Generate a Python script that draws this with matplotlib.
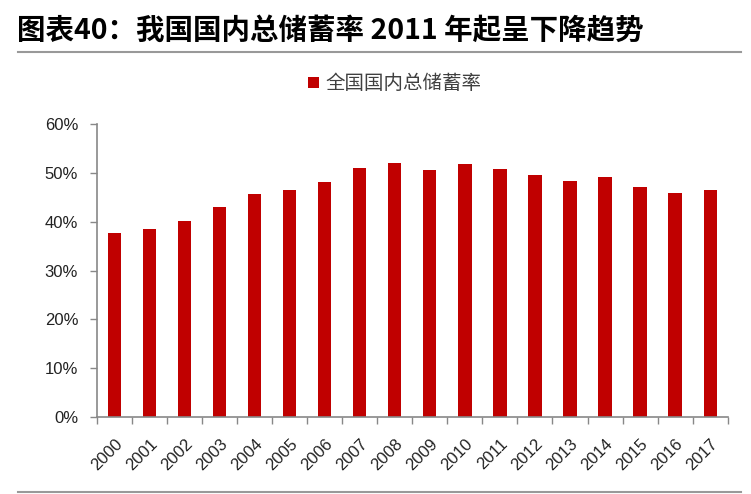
import matplotlib
matplotlib.use("Agg")
import matplotlib.pyplot as plt
from matplotlib.ticker import FuncFormatter, MultipleLocator
from matplotlib.transforms import ScaledTranslation
import numpy as np

years = ["2000", "2001", "2002", "2003", "2004", "2005", "2006", "2007", "2008",
         "2009", "2010", "2011", "2012", "2013", "2014", "2015", "2016", "2017"]
savings_rate = [37.7, 38.5, 40.2, 43.0, 45.8, 46.6, 48.2, 51.0, 52.0,
                50.6, 51.8, 50.8, 49.6, 48.4, 49.2, 47.2, 46.0, 46.6]
series_name = "全国国内总储蓄率"
title = "图表40：我国国内总储蓄率 2011 年起呈下降趋势"

plt.rcParams['font.family'] = ['Noto Sans CJK SC', 'DejaVu Sans']

fig = plt.figure(figsize=(7.51, 4.94), dpi=100)
ax = fig.add_axes([0.129, 0.156, 0.840, 0.592])

x = np.arange(len(years))
ax.bar(x, savings_rate, width=0.38, color="#C00000", label=series_name, zorder=2)

ax.set_xlim(-0.5, len(years) - 0.5)
ax.set_ylim(0, 60)
ax.yaxis.set_major_locator(MultipleLocator(10))
ax.yaxis.set_major_formatter(FuncFormatter(lambda v, p: f"{v:.0f}%"))

ax.set_xticks(x)
ax.set_xticklabels(years, rotation=45, ha="right", va="top", rotation_mode="anchor",
                   fontsize=12, color="#222222", family=['Liberation Sans'])
offset = ScaledTranslation(2 / 100, 0, fig.dpi_scale_trans)
for lbl in ax.get_xticklabels():
    lbl.set_transform(lbl.get_transform() + offset)
ax.set_xticks(np.arange(-0.5, len(years)), minor=True)
ax.tick_params(axis="x", which="major", length=0, pad=14)
ax.tick_params(axis="x", which="minor", length=5, color="#888888", width=1)
ax.tick_params(axis="y", length=5, color="#888888", width=1, labelsize=12,
               labelcolor="#222222", pad=8.5)
for lbl in ax.get_yticklabels():
    lbl.set_family(['Liberation Sans'])

for s in ["top", "right"]:
    ax.spines[s].set_visible(False)
for s in ["left", "bottom"]:
    ax.spines[s].set_color("#888888")
    ax.spines[s].set_linewidth(1.2)

leg = fig.legend(loc="center", bbox_to_anchor=(0.526, 0.83), frameon=False,
                 fontsize=14, handlelength=0.55, handleheight=0.55, handletextpad=0.35)
for t in leg.get_texts():
    t.set_color("#404040")

fig.text(0.022, 0.938, title, fontsize=20.5, fontweight="bold", color="#000000",
         va="center", ha="left")

fig.add_artist(plt.Line2D([0.024, 0.987], [0.8947, 0.8947], color="#999999", lw=1.5,
                          transform=fig.transFigure))
fig.add_artist(plt.Line2D([0.024, 0.987], [0.0034, 0.0034], color="#999999", lw=1.5,
                          transform=fig.transFigure))

fig.savefig("out.png", dpi=100)
